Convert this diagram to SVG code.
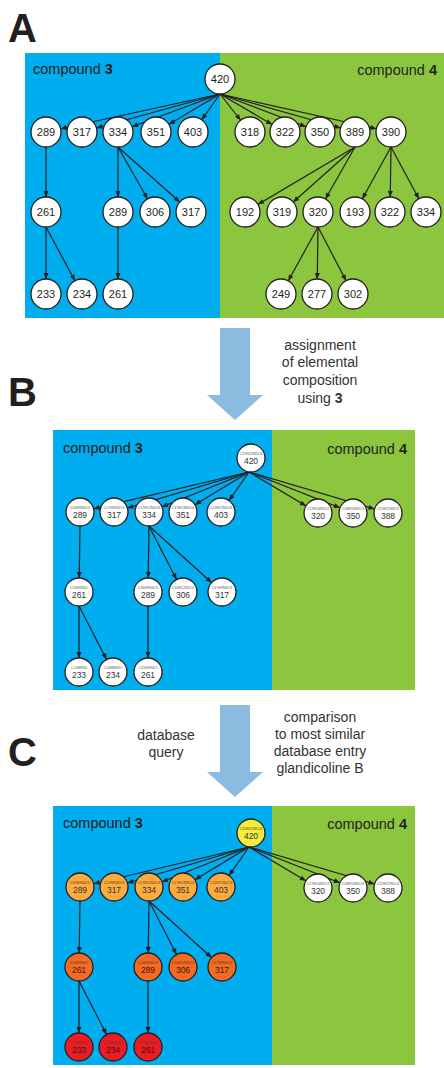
<svg xmlns="http://www.w3.org/2000/svg" width="444" height="1068" viewBox="0 0 444 1068">
  <style>
    text { font-family: "Liberation Sans", Arial, sans-serif; }
    .lbl { font-size: 40px; font-weight: bold; fill: #231f20; }
    .cmp { font-size: 14.5px; fill: #231f20; }
    .cmp tspan { font-weight: bold; }
    .note { font-size: 14px; fill: #333; text-anchor: middle; }
    .note tspan.b { font-weight: bold; }
    .edge { stroke: #231f20; stroke-width: 1.2; fill: none; }
    .ea { marker-end: url(#mA); }
    .eb { marker-end: url(#mB); }
    .node circle { stroke: #231f20; stroke-width: 1.3; fill: #fff; }
    .nA text { font-size: 11px; text-anchor: middle; fill: #231f20; }
    .nB text { text-anchor: middle; }
    .nB .f { font-size: 3.6px; fill: #555; }
    .nB .m { font-size: 8.5px; fill: #333; }
    .c-y circle { fill: #f5ec3c; }
    .c-lo circle { fill: #fbab3f; }
    .c-o circle { fill: #f26a24; }
    .c-r circle { fill: #ec1c27; }
    .c-y .f, .c-lo .f, .c-o .f, .c-r .f { fill: #5a3a1a; }
    .c-r .m, .c-o .m { fill: #3a1a10; }
    .big { fill: #8cbbe0; }
  </style>
  <defs>
    <!-- arrowheads pulled back by the node radius so the tip sits on the circle -->
    <marker id="mA" markerUnits="userSpaceOnUse" markerWidth="6" markerHeight="5" refX="21" refY="2.5" orient="auto" overflow="visible">
      <path d="M0,0 L6,2.5 L0,5 z" fill="#231f20"/>
    </marker>
    <marker id="mB" markerUnits="userSpaceOnUse" markerWidth="6" markerHeight="5" refX="20" refY="2.5" orient="auto" overflow="visible">
      <path d="M0,0 L6,2.5 L0,5 z" fill="#231f20"/>
    </marker>
  </defs>

  <!-- panel letters -->
  <text class="lbl" x="8" y="42">A</text>
  <text class="lbl" x="8" y="406">B</text>
  <text class="lbl" x="8" y="766">C</text>

  <!-- backgrounds -->
  <rect x="25" y="53" width="195" height="265" fill="#00adee"/>
  <rect x="220" y="53" width="224" height="265" fill="#8cc63f"/>
  <rect x="53" y="430" width="219" height="260" fill="#00adee"/>
  <rect x="272" y="430" width="143" height="260" fill="#8cc63f"/>
  <rect x="53" y="806" width="219" height="259" fill="#00adee"/>
  <rect x="272" y="806" width="143" height="259" fill="#8cc63f"/>

  <text class="cmp" x="33" y="74">compound <tspan>3</tspan></text>
  <text class="cmp" x="437" y="75" text-anchor="end">compound <tspan>4</tspan></text>
  <text class="cmp" x="63" y="453">compound <tspan>3</tspan></text>
  <text class="cmp" x="407" y="454" text-anchor="end">compound <tspan>4</tspan></text>
  <text class="cmp" x="63" y="828">compound <tspan>3</tspan></text>
  <text class="cmp" x="407" y="829" text-anchor="end">compound <tspan>4</tspan></text>

  <!-- process arrows and notes -->
  <polygon class="big" points="220,328 250,328 250,395 263,395 235,420 207,395 220,395"/>
  <polygon class="big" points="220,705 250,705 250,772 263,772 235,797 207,772 220,772"/>
  <text class="note" x="320" y="350">assignment</text>
  <text class="note" x="320" y="367">of elemental</text>
  <text class="note" x="320" y="385">composition</text>
  <text class="note" x="320" y="403">using <tspan class="b">3</tspan></text>
  <text class="note" x="166" y="740">database</text>
  <text class="note" x="166" y="757">query</text>
  <text class="note" x="320" y="722">comparison</text>
  <text class="note" x="320" y="739">to most similar</text>
  <text class="note" x="320" y="756">database entry</text>
  <text class="note" x="320" y="773">glandicoline B</text>

  <!-- connectors -->
  <g id="connectors">
    <!-- tree A -->
    <g class="edge ea">
      <line x1="220" y1="94" x2="46" y2="132"/>
      <line x1="220" y1="94" x2="82" y2="132"/>
      <line x1="220" y1="94" x2="118" y2="132"/>
      <line x1="220" y1="94" x2="156" y2="132"/>
      <line x1="220" y1="94" x2="193" y2="132"/>
      <line x1="220" y1="94" x2="250" y2="132"/>
      <line x1="220" y1="94" x2="285" y2="132"/>
      <line x1="220" y1="94" x2="320" y2="132"/>
      <line x1="220" y1="94" x2="355" y2="132"/>
      <line x1="220" y1="94" x2="391" y2="132"/>
      <line x1="46" y1="147" x2="46" y2="212"/>
      <line x1="118" y1="147" x2="118" y2="212"/>
      <line x1="118" y1="147" x2="155" y2="212"/>
      <line x1="118" y1="147" x2="191" y2="212"/>
      <line x1="355" y1="147" x2="245" y2="212"/>
      <line x1="355" y1="147" x2="282" y2="212"/>
      <line x1="355" y1="147" x2="318" y2="212"/>
      <line x1="391" y1="147" x2="355" y2="212"/>
      <line x1="391" y1="147" x2="390" y2="212"/>
      <line x1="391" y1="147" x2="426" y2="212"/>
      <line x1="46" y1="227" x2="46" y2="294"/>
      <line x1="46" y1="227" x2="82" y2="294"/>
      <line x1="118" y1="227" x2="118" y2="294"/>
      <line x1="318" y1="227" x2="281" y2="294"/>
      <line x1="318" y1="227" x2="317" y2="294"/>
      <line x1="318" y1="227" x2="353" y2="294"/>
    </g>
    <!-- tree B -->
    <g class="edge eb">
      <line x1="249" y1="472" x2="80" y2="512"/>
      <line x1="249" y1="472" x2="114" y2="512"/>
      <line x1="249" y1="472" x2="149" y2="512"/>
      <line x1="249" y1="472" x2="183" y2="512"/>
      <line x1="249" y1="472" x2="221" y2="512"/>
      <line x1="249" y1="472" x2="318" y2="513"/>
      <line x1="249" y1="472" x2="353" y2="513"/>
      <line x1="249" y1="472" x2="388" y2="513"/>
      <line x1="80" y1="526" x2="79" y2="592"/>
      <line x1="149" y1="526" x2="148" y2="592"/>
      <line x1="149" y1="526" x2="183" y2="592"/>
      <line x1="149" y1="526" x2="222" y2="592"/>
      <line x1="79" y1="606" x2="79" y2="672"/>
      <line x1="79" y1="606" x2="113" y2="672"/>
      <line x1="148" y1="606" x2="148" y2="672"/>
    </g>
    <!-- tree C -->
    <g class="edge eb">
      <line x1="249" y1="847" x2="80" y2="887"/>
      <line x1="249" y1="847" x2="114" y2="887"/>
      <line x1="249" y1="847" x2="149" y2="887"/>
      <line x1="249" y1="847" x2="183" y2="887"/>
      <line x1="249" y1="847" x2="221" y2="887"/>
      <line x1="249" y1="847" x2="318" y2="888"/>
      <line x1="249" y1="847" x2="353" y2="888"/>
      <line x1="249" y1="847" x2="388" y2="888"/>
      <line x1="80" y1="901" x2="79" y2="967"/>
      <line x1="149" y1="901" x2="148" y2="967"/>
      <line x1="149" y1="901" x2="183" y2="967"/>
      <line x1="149" y1="901" x2="222" y2="967"/>
      <line x1="79" y1="981" x2="79" y2="1047"/>
      <line x1="79" y1="981" x2="113" y2="1047"/>
      <line x1="148" y1="981" x2="148" y2="1047"/>
    </g>
  </g>

  <!-- tree A nodes (nominal mass only) -->
  <g id="a-420" class="node nA" transform="translate(220,79)"><circle r="15"/><text y="4">420</text></g>
  <g id="a-289" class="node nA" transform="translate(46,132)"><circle r="15"/><text y="4">289</text></g>
  <g id="a-317" class="node nA" transform="translate(82,132)"><circle r="15"/><text y="4">317</text></g>
  <g id="a-334" class="node nA" transform="translate(118,132)"><circle r="15"/><text y="4">334</text></g>
  <g id="a-351" class="node nA" transform="translate(156,132)"><circle r="15"/><text y="4">351</text></g>
  <g id="a-403" class="node nA" transform="translate(193,132)"><circle r="15"/><text y="4">403</text></g>
  <g id="a-318" class="node nA" transform="translate(250,132)"><circle r="15"/><text y="4">318</text></g>
  <g id="a-322" class="node nA" transform="translate(285,132)"><circle r="15"/><text y="4">322</text></g>
  <g id="a-350" class="node nA" transform="translate(320,132)"><circle r="15"/><text y="4">350</text></g>
  <g id="a-389" class="node nA" transform="translate(355,132)"><circle r="15"/><text y="4">389</text></g>
  <g id="a-390" class="node nA" transform="translate(391,132)"><circle r="15"/><text y="4">390</text></g>
  <g id="a-261" class="node nA" transform="translate(46,212)"><circle r="15"/><text y="4">261</text></g>
  <g id="a-289b" class="node nA" transform="translate(118,212)"><circle r="15"/><text y="4">289</text></g>
  <g id="a-306" class="node nA" transform="translate(155,212)"><circle r="15"/><text y="4">306</text></g>
  <g id="a-317b" class="node nA" transform="translate(191,212)"><circle r="15"/><text y="4">317</text></g>
  <g id="a-192" class="node nA" transform="translate(245,212)"><circle r="15"/><text y="4">192</text></g>
  <g id="a-319" class="node nA" transform="translate(282,212)"><circle r="15"/><text y="4">319</text></g>
  <g id="a-320" class="node nA" transform="translate(318,212)"><circle r="15"/><text y="4">320</text></g>
  <g id="a-193" class="node nA" transform="translate(355,212)"><circle r="15"/><text y="4">193</text></g>
  <g id="a-322b" class="node nA" transform="translate(390,212)"><circle r="15"/><text y="4">322</text></g>
  <g id="a-334b" class="node nA" transform="translate(426,212)"><circle r="15"/><text y="4">334</text></g>
  <g id="a-233" class="node nA" transform="translate(46,294)"><circle r="15"/><text y="4">233</text></g>
  <g id="a-234" class="node nA" transform="translate(82,294)"><circle r="15"/><text y="4">234</text></g>
  <g id="a-261b" class="node nA" transform="translate(118,294)"><circle r="15"/><text y="4">261</text></g>
  <g id="a-249" class="node nA" transform="translate(281,294)"><circle r="15"/><text y="4">249</text></g>
  <g id="a-277" class="node nA" transform="translate(317,294)"><circle r="15"/><text y="4">277</text></g>
  <g id="a-302" class="node nA" transform="translate(353,294)"><circle r="15"/><text y="4">302</text></g>

  <!-- tree B nodes (formula + mass) -->
  <g id="b-420" class="node nB" transform="translate(251,458)"><circle r="14"/><text class="f" y="-3">C22H22N5O4</text><text class="m" y="6">420</text></g>
  <g id="b-289" class="node nB" transform="translate(80,512)"><circle r="14"/><text class="f" y="-3">C16H9N4O2</text><text class="m" y="6">289</text></g>
  <g id="b-317" class="node nB" transform="translate(114,512)"><circle r="14"/><text class="f" y="-3">C17H9N4O3</text><text class="m" y="6">317</text></g>
  <g id="b-334" class="node nB" transform="translate(149,512)"><circle r="14"/><text class="f" y="-3">C17H12N5O3</text><text class="m" y="6">334</text></g>
  <g id="b-351" class="node nB" transform="translate(183,512)"><circle r="14"/><text class="f" y="-3">C17H13N5O4</text><text class="m" y="6">351</text></g>
  <g id="b-403" class="node nB" transform="translate(221,512)"><circle r="14"/><text class="f" y="-3">C22H21N5O3</text><text class="m" y="6">403</text></g>
  <g id="b-320" class="node nB" transform="translate(318,513)"><circle r="14"/><text class="f" y="-3">C17H14N5O2</text><text class="m" y="6">320</text></g>
  <g id="b-350" class="node nB" transform="translate(353,513)"><circle r="14"/><text class="f" y="-3">C18H16N5O3</text><text class="m" y="6">350</text></g>
  <g id="b-388" class="node nB" transform="translate(388,513)"><circle r="14"/><text class="f" y="-3">C22H22N5O2</text><text class="m" y="6">388</text></g>
  <g id="b-261" class="node nB" transform="translate(79,592)"><circle r="14"/><text class="f" y="-3">C15H9N4O</text><text class="m" y="6">261</text></g>
  <g id="b-289b" class="node nB" transform="translate(148,592)"><circle r="14"/><text class="f" y="-3">C16H9N4O2</text><text class="m" y="6">289</text></g>
  <g id="b-306" class="node nB" transform="translate(183,592)"><circle r="14"/><text class="f" y="-3">C16H12N5O2</text><text class="m" y="6">306</text></g>
  <g id="b-317b" class="node nB" transform="translate(222,592)"><circle r="14"/><text class="f" y="-3">C17H9N4O3</text><text class="m" y="6">317</text></g>
  <g id="b-233" class="node nB" transform="translate(79,672)"><circle r="14"/><text class="f" y="-3">C14H9N4</text><text class="m" y="6">233</text></g>
  <g id="b-234" class="node nB" transform="translate(113,672)"><circle r="14"/><text class="f" y="-3">C14H8N3O</text><text class="m" y="6">234</text></g>
  <g id="b-261b" class="node nB" transform="translate(148,672)"><circle r="14"/><text class="f" y="-3">C15H9N4O</text><text class="m" y="6">261</text></g>

  <!-- tree C nodes, coloured by match -->
  <g id="c-420" class="node nB c-y" transform="translate(251,833)"><circle r="14"/><text class="f" y="-3">C22H22N5O4</text><text class="m" y="6">420</text></g>
  <g id="c-289" class="node nB c-lo" transform="translate(80,887)"><circle r="14"/><text class="f" y="-3">C16H9N4O2</text><text class="m" y="6">289</text></g>
  <g id="c-317" class="node nB c-lo" transform="translate(114,887)"><circle r="14"/><text class="f" y="-3">C17H9N4O3</text><text class="m" y="6">317</text></g>
  <g id="c-334" class="node nB c-lo" transform="translate(149,887)"><circle r="14"/><text class="f" y="-3">C17H12N5O3</text><text class="m" y="6">334</text></g>
  <g id="c-351" class="node nB c-lo" transform="translate(183,887)"><circle r="14"/><text class="f" y="-3">C17H13N5O4</text><text class="m" y="6">351</text></g>
  <g id="c-403" class="node nB c-lo" transform="translate(221,887)"><circle r="14"/><text class="f" y="-3">C22H21N5O3</text><text class="m" y="6">403</text></g>
  <g id="c-320" class="node nB" transform="translate(318,888)"><circle r="14"/><text class="f" y="-3">C17H14N5O2</text><text class="m" y="6">320</text></g>
  <g id="c-350" class="node nB" transform="translate(353,888)"><circle r="14"/><text class="f" y="-3">C18H16N5O3</text><text class="m" y="6">350</text></g>
  <g id="c-388" class="node nB" transform="translate(388,888)"><circle r="14"/><text class="f" y="-3">C22H22N5O2</text><text class="m" y="6">388</text></g>
  <g id="c-261" class="node nB c-o" transform="translate(79,967)"><circle r="14"/><text class="f" y="-3">C15H9N4O</text><text class="m" y="6">261</text></g>
  <g id="c-289b" class="node nB c-o" transform="translate(148,967)"><circle r="14"/><text class="f" y="-3">C16H9N4O2</text><text class="m" y="6">289</text></g>
  <g id="c-306" class="node nB c-o" transform="translate(183,967)"><circle r="14"/><text class="f" y="-3">C16H12N5O2</text><text class="m" y="6">306</text></g>
  <g id="c-317b" class="node nB c-o" transform="translate(222,967)"><circle r="14"/><text class="f" y="-3">C17H9N4O3</text><text class="m" y="6">317</text></g>
  <g id="c-233" class="node nB c-r" transform="translate(79,1047)"><circle r="14"/><text class="f" y="-3">C14H9N4</text><text class="m" y="6">233</text></g>
  <g id="c-234" class="node nB c-r" transform="translate(113,1047)"><circle r="14"/><text class="f" y="-3">C14H8N3O</text><text class="m" y="6">234</text></g>
  <g id="c-261b" class="node nB c-r" transform="translate(148,1047)"><circle r="14"/><text class="f" y="-3">C15H9N4O</text><text class="m" y="6">261</text></g>
</svg>
